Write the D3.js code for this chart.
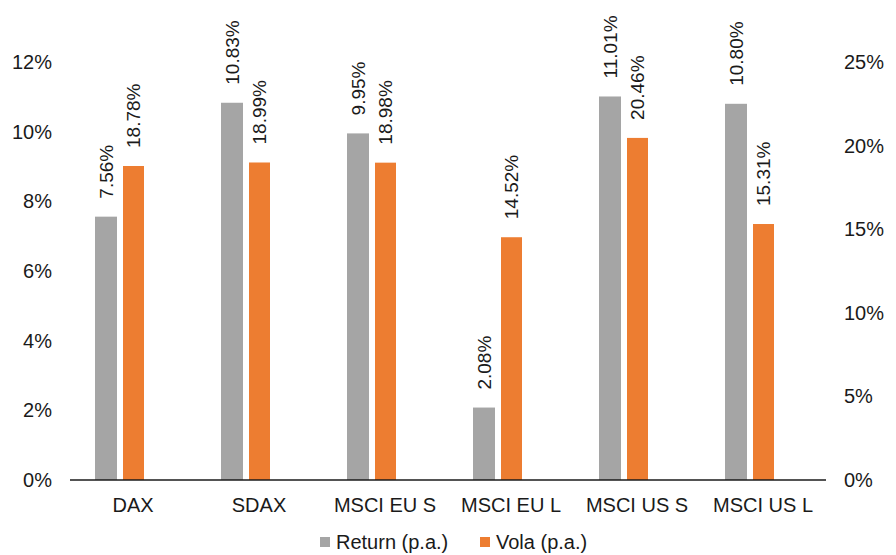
<!DOCTYPE html>
<html><head><meta charset="utf-8">
<script src="https://cdn.jsdelivr.net/npm/d3@7"></script>
<style>body{margin:0;background:#fff}svg{display:block}text{font-family:"Liberation Sans",Arial,sans-serif;fill:#1a1a1a}</style>
</head><body>
<svg id="c" width="896" height="555"></svg>
<script>
const categories = ["DAX","SDAX","MSCI EU S","MSCI EU L","MSCI US S","MSCI US L"];
const returns = [7.56, 10.83, 9.95, 2.08, 11.01, 10.80];
const volas = [18.78, 18.99, 18.98, 14.52, 20.46, 15.31];
const leftTicks = [0,2,4,6,8,10,12];
const rightTicks = [0,5,10,15,20,25];
const seriesNames = ["Return (p.a.)","Vola (p.a.)"];
const colors = ["#A5A5A5","#ED7D31"];

const svg = d3.select("#c");
const x0 = 70, x1 = 826, yTop = 62, yBot = 480;
const x = d3.scaleBand().domain(categories).range([x0,x1]).padding(0);
const yL = d3.scaleLinear().domain([0,12]).range([yBot,yTop]);
const yR = d3.scaleLinear().domain([0,25]).range([yBot,yTop]);
const barW = 22, gOff = 25, oOff = 53;
const fs = 20, vfs = 19;

// left ticks
svg.append("g").selectAll("text").data(leftTicks).join("text")
  .attr("x",52).attr("y",d=>yL(d)).attr("dy","0.35em").attr("text-anchor","end")
  .attr("font-size",fs).text(d=>d+"%");
// right ticks
svg.append("g").selectAll("text").data(rightTicks).join("text")
  .attr("x",844).attr("y",d=>yR(d)).attr("dy","0.35em").attr("text-anchor","start")
  .attr("font-size",fs).text(d=>d+"%");

// bars
svg.append("g").selectAll("rect").data(returns).join("rect")
  .attr("x",(d,i)=>x(categories[i])+gOff).attr("width",barW)
  .attr("y",d=>yL(d)).attr("height",d=>yBot-yL(d)).attr("fill",colors[0]);
svg.append("g").selectAll("rect").data(volas).join("rect")
  .attr("x",(d,i)=>x(categories[i])+oOff).attr("width",barW-1)
  .attr("y",d=>yR(d)).attr("height",d=>yBot-yR(d)).attr("fill",colors[1]);

// value labels
const lbl = (data, sc, off, w) => svg.append("g").selectAll("text").data(data).join("text")
  .attr("transform",(d,i)=>`translate(${x(categories[i])+off+w/2},${sc(d)-18}) rotate(-90)`)
  .attr("dy","0.35em").attr("text-anchor","start").attr("font-size",vfs)
  .text(d=>d.toFixed(2)+"%");
lbl(returns,yL,gOff,barW);
lbl(volas,yR,oOff,barW-1);

// axis line
svg.append("line").attr("x1",x0).attr("x2",x1).attr("y1",yBot).attr("y2",yBot)
  .attr("stroke","#1a1a1a").attr("stroke-width",1.5);

// category labels
svg.append("g").selectAll("text").data(categories).join("text")
  .attr("x",d=>x(d)+x.bandwidth()/2).attr("y",505).attr("dy","0.35em")
  .attr("text-anchor","middle").attr("font-size",fs).text(d=>d);

// legend
const leg = svg.append("g");
const legX = [320, 480];
seriesNames.forEach((n,i)=>{
  leg.append("rect").attr("x",legX[i]).attr("y",537).attr("width",10).attr("height",10).attr("fill",colors[i]);
  leg.append("text").attr("x",legX[i]+16).attr("y",542).attr("dy","0.35em").attr("font-size",fs).text(n);
});
</script>
</body></html>
